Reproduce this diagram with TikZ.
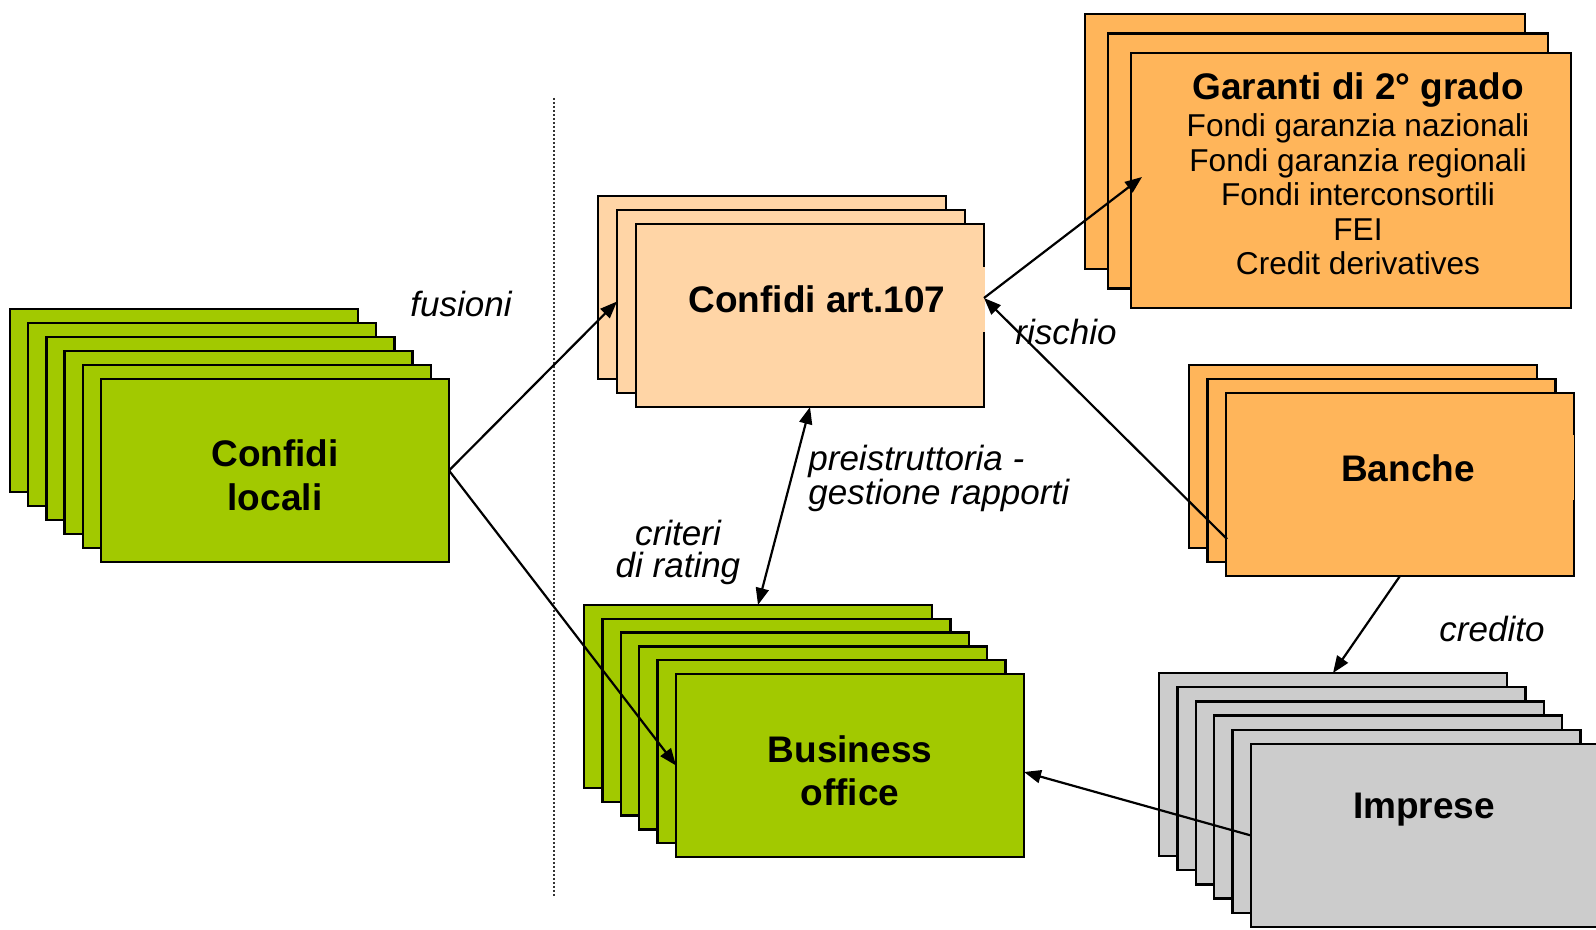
\documentclass[tikz,border=0pt]{standalone}
\usepackage{fontspec}
\setmainfont{Liberation Sans}
\usetikzlibrary{arrows.meta}
\definecolor{cgreen}{RGB}{162,201,0}
\definecolor{cpeach}{RGB}{255,213,166}
\definecolor{corange}{RGB}{255,181,90}
\definecolor{cgray}{RGB}{204,204,204}
\begin{document}
\begin{tikzpicture}[x=0.5pt,y=-0.5pt,
  card/.style={draw=black, line width=1.15pt, anchor=north west, inner sep=0pt, outer sep=0pt},
  std/.style={card, minimum width=174pt, minimum height=91.5pt},
  big/.style={card, minimum width=220pt, minimum height=127.5pt},
  title/.style={font=\fontsize{18.5}{21.5}\selectfont\bfseries, align=center, inner sep=0pt, anchor=base},
  lbl/.style={font=\fontsize{17.5}{16}\selectfont\itshape, inner sep=0pt, anchor=base},
  conn/.style={line width=1.1pt, -{Triangle[length=8.5pt,width=6.5pt]}},
  dconn/.style={line width=1.1pt, {Triangle[length=8.5pt,width=6.5pt]}-{Triangle[length=8.5pt,width=6.5pt]}},
]
\useasboundingbox (0,0) rectangle (1596,930);

% divider
\draw[line width=0.8pt, dash pattern=on 0.8pt off 1.2pt, black!80] (554,98) -- (554,896);

% Confidi locali stack
\node[std, fill=cgreen] (l0) at (10,309) {};
\node[std, fill=cgreen] (l1) at (28.2,323) {};
\node[std, fill=cgreen] (l2) at (46.4,337) {};
\node[std, fill=cgreen] (l3) at (64.6,351) {};
\node[std, fill=cgreen] (l4) at (82.8,365) {};
\node[std, fill=cgreen] (lc) at (101,379) {};
\node[title] (tl) at (275,510) {Confidi\\locali};

% Confidi art.107 stack
\node[std, fill=cpeach] (a0) at (598,196) {};
\node[std, fill=cpeach] (a1) at (617,210) {};
\node[std, fill=cpeach] (a2) at (636,224) {};
\fill[cpeach] (982.6,267) rectangle (985.4,332);
\node[title] (ta) at (817,313) {Confidi art.107};

% Garanti stack
\node[big, fill=corange] (g0) at (1085,14) {};
\node[big, fill=corange] (g1) at (1108,33.5) {};
\node[big, fill=corange] (g2) at (1131,53) {};
\node[font=\fontsize{15.8}{17.25}\selectfont, align=center, inner sep=0pt, anchor=base] (tg) at (1358,275)
  {{\fontsize{18.5}{17.25}\selectfont\bfseries Garanti di 2° grado}\\[1.5pt]
   Fondi garanzia nazionali\\ Fondi garanzia regionali\\ Fondi interconsortili\\ FEI\\ Credit derivatives};

% Banche stack
\node[std, fill=corange] (b0) at (1189,365) {};
\node[std, fill=corange] (b1) at (1207.5,379) {};
\node[std, fill=corange] (b2) at (1226,393) {};
\fill[corange] (1571.6,435) rectangle (1574.4,500);
\node[title] (tb) at (1408,482) {Banche};

% Business office stack
\node[std, fill=cgreen] (o0) at (584,605) {};
\node[std, fill=cgreen] (o1) at (602.4,618.8) {};
\node[std, fill=cgreen] (o2) at (620.8,632.6) {};
\node[std, fill=cgreen] (o3) at (639.2,646.4) {};
\node[std, fill=cgreen] (o4) at (657.6,660.2) {};
\node[std, fill=cgreen] (o5) at (676,674) {};
\node[title] (to) at (850,805) {Business\\office};

% Imprese stack
\node[std, fill=cgray] (i0) at (1159,673) {};
\node[std, fill=cgray] (i1) at (1177.4,687.2) {};
\node[std, fill=cgray] (i2) at (1195.8,701.4) {};
\node[std, fill=cgray] (i3) at (1214.2,715.6) {};
\node[std, fill=cgray] (i4) at (1232.6,729.8) {};
\node[std, fill=cgray] (i5) at (1251,744) {};
\node[title] (ti) at (1424,818) {Imprese};

% free ends
\coordinate (p107) at (984,298);
\coordinate (pg) at (1142,177);
\coordinate (pb) at (1227,539);
\coordinate (pbo) at (1024,772);

% connectors
\draw[conn] (lc.east) -- (a1.west);
\draw[conn] (lc.east) -- (o5.west);
\draw[conn] (p107) -- (pg);
\draw[conn] (pb) -- (p107);
\draw[dconn] (a2.south) -- (o0.north);
\draw[conn] (b2.south) -- (i0.north);
\draw[conn] (i5.west) -- (pbo);

% labels
\node[lbl] (lf) at (461,317) {fusioni};
\node[lbl] (lr) at (1066,345) {rischio};
\node[lbl, anchor=base west, align=left] (lp) at (808,505) {preistruttoria -\\gestione rapporti};
\node[lbl, align=center] (lcr) at (678,577) {criteri\\di rating};
\node[lbl] (lcd) at (1492,641) {credito};
\end{tikzpicture}
\end{document}
